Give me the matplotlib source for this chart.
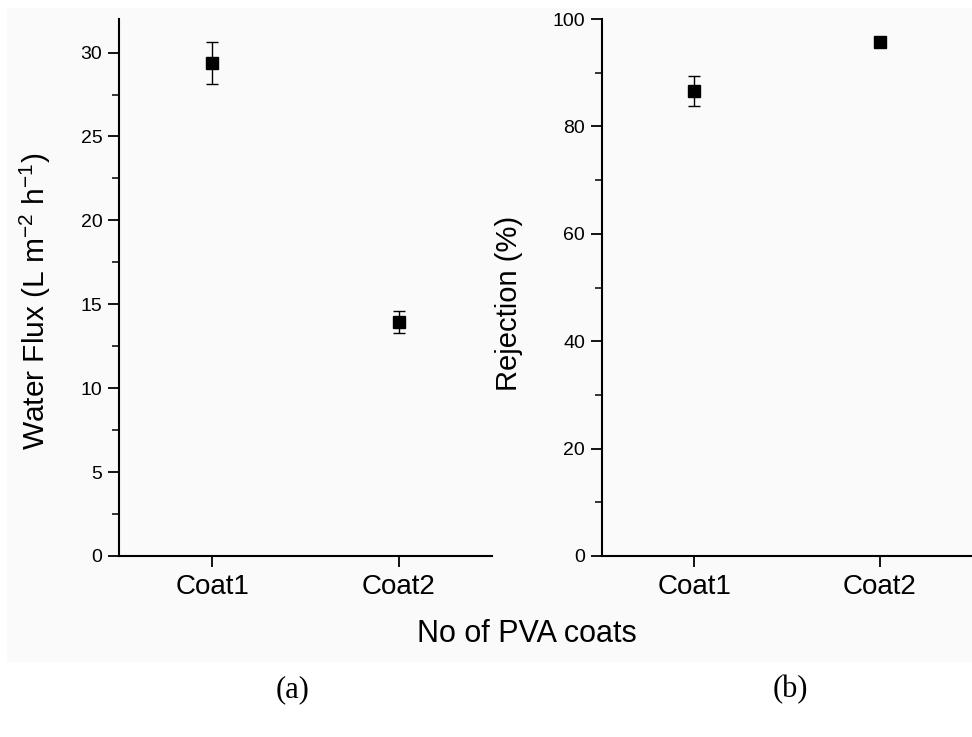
import matplotlib
matplotlib.use("Agg")
import matplotlib.pyplot as plt
from matplotlib.patches import Rectangle
from matplotlib.ticker import MultipleLocator

plt.rcParams['font.family'] = ['Liberation Sans', 'DejaVu Sans']
plt.rcParams['mathtext.fontset'] = 'custom'
plt.rcParams['mathtext.rm'] = 'Liberation Sans'
plt.rcParams['mathtext.it'] = 'Liberation Sans:italic'

categories = ["Coat1", "Coat2"]
flux_values = [29.36, 13.95]
flux_errors = [1.25, 0.65]
rejection_values = [86.6, 95.7]
rejection_errors = [2.8, 0.0]

fig = plt.figure(figsize=(9.72, 7.37), dpi=100)
fig.patch.set_facecolor('white')
fig.patches.append(Rectangle((7/972, 1 - 662/737), 1 - 7/972, (662 - 8)/737,
                             transform=fig.transFigure, facecolor='#fafafa',
                             edgecolor='none', zorder=-10))

ax1 = fig.add_axes([119/972, 1 - 556/737, 373/972, 537/737])
ax2 = fig.add_axes([601.7/972, 1 - 556/737, 371/972, 537/737])

x = [1, 2]
for ax in (ax1, ax2):
    ax.set_facecolor('none')
    for s in ('top', 'right'):
        ax.spines[s].set_visible(False)
    for s in ('left', 'bottom'):
        ax.spines[s].set_linewidth(1.5)
    ax.set_xlim(0.5, 2.5)
    ax.set_xticks(x)
    ax.set_xticklabels(categories, fontsize=20)
    ax.tick_params(axis='x', direction='out', length=8, width=1.3, pad=5)
    ax.tick_params(axis='y', which='major', direction='out', length=8, width=1.3, labelsize=14, pad=4)
    ax.tick_params(axis='y', which='minor', direction='out', length=5, width=1.1)

ax1.errorbar(x, flux_values, yerr=flux_errors, fmt='s', color='black', markersize=9,
             ecolor='black', elinewidth=1.0, capsize=4.6, capthick=1.0, clip_on=False)
ax1.set_ylim(0, 32)
ax1.yaxis.set_major_locator(MultipleLocator(5))
ax1.yaxis.set_minor_locator(MultipleLocator(2.5))
ax1.set_ylabel(r'Water Flux (L m$^{\mathregular{-2}}$ h$^{\mathregular{-1}}$)', fontsize=21.5)
ax1.yaxis.set_label_coords(-0.177, 0.475)

ax2.errorbar(x, rejection_values, yerr=rejection_errors, fmt='s', color='black', markersize=9,
             ecolor='black', elinewidth=1.0, capsize=4.6, capthick=1.0, clip_on=False)
ax2.set_ylim(0, 100)
ax2.yaxis.set_major_locator(MultipleLocator(20))
ax2.yaxis.set_minor_locator(MultipleLocator(10))
ax2.set_ylabel('Rejection (%)', fontsize=21)
ax2.yaxis.set_label_coords(-0.212, 0.471)

fig.text(527/972, 1 - 634/737, 'No of PVA coats', fontsize=22, ha='center', va='center')
fig.text(293/972, 1 - 690/737, '(a)', fontsize=22, ha='center', va='center', family='Liberation Serif')
fig.text(790/972, 1 - 690/737, '(b)', fontsize=22, ha='center', va='center', family='Liberation Serif')

fig.savefig('out.png', dpi=100)
